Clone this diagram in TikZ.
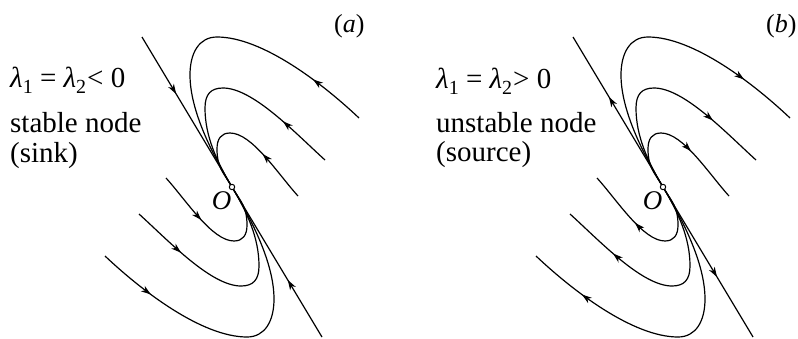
\documentclass[tikz,border=0pt]{standalone}
\usepackage{fontspec}
\setmainfont{Liberation Serif}
\newfontfamily\tnr{Liberation Serif}
\usetikzlibrary{arrows.meta,decorations.markings}
\newcommand\sblab[1]{\raisebox{-6pt}{\fontsize{20}{20}\selectfont #1}}
% #1 = arrow style, #2..#5 = positions (outer, middle, inner, line)
\newcommand\curvesUpper[5]{%
  \draw[traj,#1=#2] (127,-69) .. controls (90,-104) and (30,-150) .. (-15,-150);
  \draw[traj] (-15,-150) .. controls (-33,-150) and (-42,-134) .. (-42,-112)
     .. controls (-42,-77) and (-20.6,-34.3) .. (0,0);
  \draw[traj,#1=#3] (93,-27) .. controls (63.4,-53.8) and (21,-99) .. (-9,-99);
  \draw[traj] (-9,-99) .. controls (-21,-99) and (-27,-93) .. (-27,-79)
     .. controls (-27,-51) and (-15.4,-25.7) .. (0,0);
  \draw[traj,#1=#4] (66,9) .. controls (46,-13) and (20,-54) .. (-2,-54);
  \draw[traj] (-2,-54) .. controls (-11,-54) and (-15,-48) .. (-15,-38)
     .. controls (-15,-20) and (-9.3,-15.4) .. (0,0);
  \draw[traj,#1=#5] (-90,-150) -- (0,0);
}
\begin{document}
\begin{tikzpicture}[x=1pt,y=-1pt,
  traj/.style={line width=1.2pt,line join=round},
  ain/.style={postaction={decorate},decoration={markings,mark=at position #1 with {\arrow{Stealth[length=10pt,width=6.5pt,inset=3pt]}}}},
  aout/.style={postaction={decorate},decoration={markings,mark=at position #1 with {\arrowreversed{Stealth[length=10pt,width=6.5pt,inset=3pt]}}}},
  lbl/.style={inner sep=0pt,anchor=base west,font=\tnr\fontsize{29}{34}\selectfont},
  panel/.style={inner sep=0pt,anchor=base west,font=\tnr\fontsize{26}{30}\selectfont},
  origin/.style={circle,draw,fill=white,line width=1pt,inner sep=0pt,minimum size=5.4pt},
  olab/.style={inner sep=0pt,font=\tnr\fontsize{27}{30}\selectfont\itshape}]
\useasboundingbox (0,0) rectangle (798,338);

% panel (a)
\begin{scope}[shift={(232,187)}]
  \curvesUpper{ain}{0.36}{0.45}{0.58}{0.38}
  \begin{scope}[rotate=180]
    \curvesUpper{ain}{0.36}{0.45}{0.58}{0.38}
  \end{scope}
  \node[origin] (Oa) at (0,0) {};
  \node[olab] (OaL) at (-10.5,14) {O};
\end{scope}
\node[lbl] (la1) at (10,87) {{\itshape λ}\sblab{1} = {\itshape λ}\sblab{2}\kern1pt< 0};
\node[lbl] (la2) at (10,132) {stable node};
\node[lbl] (la3) at (10,162) {(sink)};
\node[panel] (pa) at (334,32) {(\textit{a})};

% panel (b)
\begin{scope}[shift={(663,187)}]
  \curvesUpper{aout}{0.36}{0.46}{0.62}{0.40}
  \begin{scope}[rotate=180]
    \curvesUpper{aout}{0.36}{0.46}{0.62}{0.40}
  \end{scope}
  \node[origin] (Ob) at (0,0) {};
  \node[olab] (ObL) at (-10.5,14) {O};
\end{scope}
\node[lbl] (lb1) at (436,88) {{\itshape λ}\sblab{1} = {\itshape λ}\sblab{2}\kern1pt> 0};
\node[lbl] (lb2) at (436,132) {unstable node};
\node[lbl] (lb3) at (436,161) {(source)};
\node[panel] (pb) at (766,32) {(\textit{b})};
\end{tikzpicture}
\end{document}
